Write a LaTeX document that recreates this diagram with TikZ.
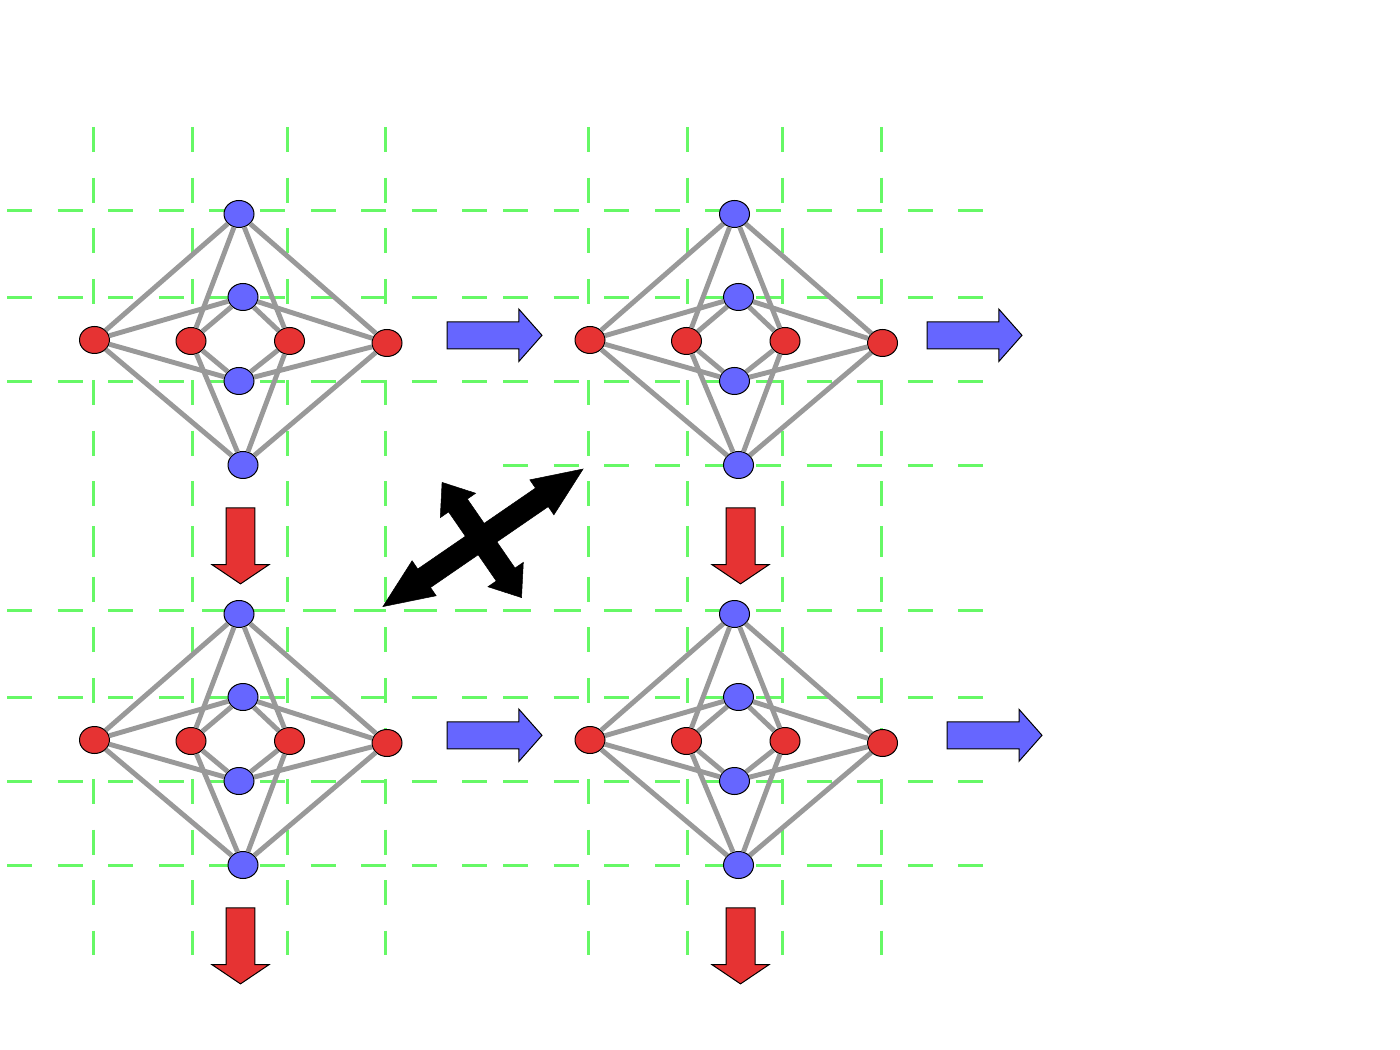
\documentclass[tikz,border=0pt]{standalone}
\usepackage{xcolor}
\usepackage{tikz}
\usetikzlibrary{shapes,arrows,positioning,calc}
\definecolor{gridGreen}{HTML}{66F866}
\definecolor{bondGray}{HTML}{999999}
\definecolor{atomBlue}{HTML}{6666FF}
\definecolor{atomRed}{HTML}{E63333}
\tikzset{
  gridLine/.style={
    draw=gridGreen,
    line width=0.05cm,
    dash pattern=on 0.5cm off 0.512cm
  },
  bondLine/.style={
    draw=bondGray,
    line width=0.098cm
  },
  blueAtom/.style={
    ellipse,
    draw=black,
    fill=atomBlue,
    line width=0.02cm,
    inner sep=0pt,
    minimum width=0.6cm,
    minimum height=0.54cm
  },
  redAtom/.style={
    blueAtom,
    fill=atomRed
  },
  moveRight/.style={
    single arrow,
    draw=black,
    fill=atomBlue,
    line width=0.02cm,
    inner xsep=0pt,
    inner ysep=0.26cm,
    outer sep=0pt,
    minimum height=1.9cm,
    minimum width=1.02cm,
    single arrow head extend=0.25cm,
    single arrow tip angle=97,
    anchor=west
  },
  moveDown/.style={
    single arrow,
    draw=black,
    fill=atomRed,
    line width=0.02cm,
    inner xsep=0.28cm,
    inner ysep=0pt,
    outer sep=0pt,
    minimum height=1.52cm,
    minimum width=1.12cm,
    single arrow head extend=0.28cm,
    single arrow tip angle=112,
    shape border rotate=270,
    anchor=center
  },
  crossArrow/.style={
    double arrow,
    draw=black,
    fill=black,
    line width=0.01cm,
    inner xsep=0pt,
    inner ysep=0.22cm,
    outer sep=0pt,
    double arrow head extend=0.2cm
  },
  crossLong/.style={
    crossArrow,
    minimum height=4.86cm,
    minimum width=0.84cm,
    double arrow tip angle=46,
    rotate=34.5
  },
  crossShort/.style={
    crossArrow,
    minimum height=2.8cm,
    minimum width=0.86cm,
    double arrow tip angle=75,
    rotate=-55.4
  }
}

\begin{document}
\begin{tikzpicture}[x=0.02cm,y=-0.02cm]
  \useasboundingbox (0,0) rectangle (1400,1050);

  % dashed grid
  \foreach \gx in {93.3,192.3,287.3,385.3,588.3,687.3,782.3,881.3} {
    \draw[gridLine] (\gx,127) -- (\gx,557);
    \draw[gridLine] (\gx,526) -- (\gx,955);
  }
  \foreach \gy in {210.3,297.3,381.3,610.3,697.3,781.3,865.3} {
    \draw[gridLine] (7,\gy) -- (490,\gy);
  }
  \foreach \gy in {210.3,297.3,381.3,465.3,610.3,697.3,781.3,865.3} {
    \draw[gridLine] (503,\gy) -- (985,\gy);
  }
  \draw[gridLine] (202,610.3) -- (685,610.3);

  % the four lattice cells
  \foreach \cell/\dx/\dy in {A/0/0,B/495.5/0,C/0/400,D/495.5/400} {
    \node[blueAtom] (\cell-top) at (239+\dx,214+\dy) {};
    \node[blueAtom] (\cell-up) at (243+\dx,297+\dy) {};
    \node[blueAtom] (\cell-low) at (239+\dx,381+\dy) {};
    \node[blueAtom] (\cell-bot) at (243+\dx,465+\dy) {};
    \node[redAtom] (\cell-left) at (94.5+\dx,340+\dy) {};
    \node[redAtom] (\cell-inL) at (191+\dx,341+\dy) {};
    \node[redAtom] (\cell-inR) at (289.5+\dx,341+\dy) {};
    \node[redAtom] (\cell-right) at (387+\dx,343+\dy) {};
    \foreach \red in {left,inL,inR,right} {
      \foreach \blue in {top,up,low,bot} {
        \draw[bondLine] (\cell-\red) -- (\cell-\blue);
      }
    }
  }

  \node[moveRight] (rightA) at (447,335.3) {};
  \node[moveRight] (rightB) at (927,335.3) {};
  \node[moveRight] (rightC) at (447,735.3) {};
  \node[moveRight] (rightD) at (947,735.3) {};

  \node[moveDown] (downA) at (240.5,541) {};
  \node[moveDown] (downB) at (740.5,541) {};
  \node[moveDown] (downC) at (240.5,941) {};
  \node[moveDown] (downD) at (740.5,941) {};

  \node[crossLong] (crossOne) at (483,537.8) {};
  \node[crossShort] (crossTwo) at (481.8,540) {};
\end{tikzpicture}
\end{document}
